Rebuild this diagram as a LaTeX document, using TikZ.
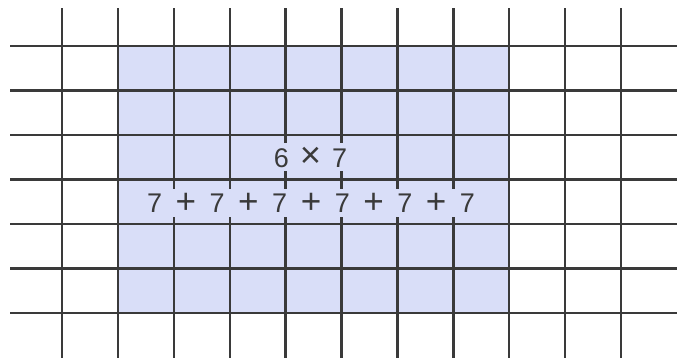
\documentclass[tikz,border=0pt]{standalone}
\usepackage{fontspec}
\setmainfont{Liberation Sans}
\usepackage{graphicx}
\definecolor{gridshade}{HTML}{D9DEF8}
\definecolor{ink}{HTML}{3A3A3A}
\newcommand{\myplus}{\hspace{13.5pt}\raisebox{-0.5pt}{\scalebox{1.3}{+}}\hspace{13.5pt}}
\newcommand{\mytimes}{\hspace{11pt}\raisebox{0pt}{\scalebox{1.35}{×}}\hspace{11pt}}
\begin{document}
\begin{tikzpicture}[x=1pt,y=-1pt,
  gridline/.style={draw=ink,line width=2.4pt},
  label/.style={fill=gridshade,text=ink,inner xsep=4pt,inner ysep=4pt,font=\fontsize{27}{27}\selectfont}]
\useasboundingbox (0,0) rectangle (677,360);
\fill[gridshade] (117.9,46) rectangle (509.3,313);
\foreach \k in {0,...,10}{
  \draw[gridline] ({62+55.9*\k},8) -- ({62+55.9*\k},358);
}
\foreach \j in {0,...,6}{
  \draw[gridline] (10,{46+44.5*\j}) -- (677,{46+44.5*\j});
}
\node[label] (prod) at (310.5,157) {6\mytimes 7};
\node[label] (sum) at (311,203) {7\myplus 7\myplus 7\myplus 7\myplus 7\myplus 7};
\end{tikzpicture}
\end{document}
